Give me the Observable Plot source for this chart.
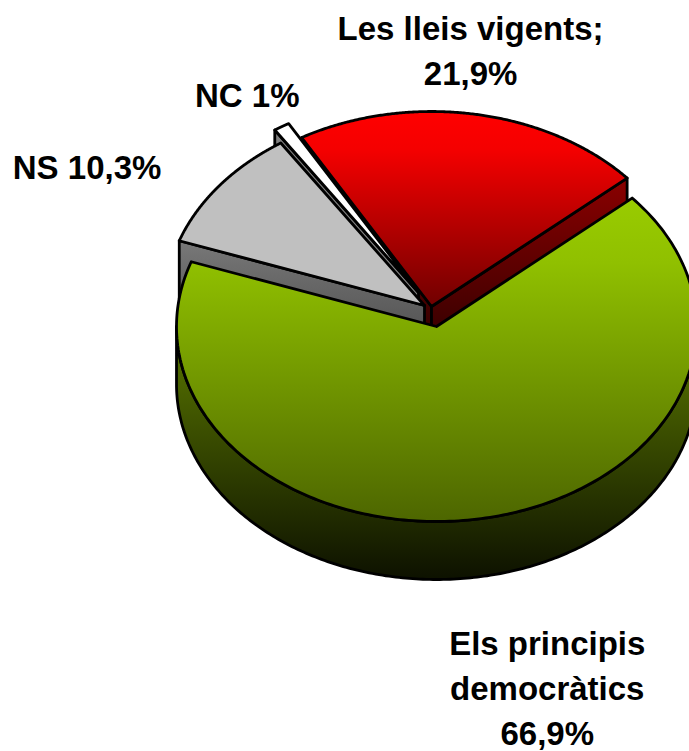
<!DOCTYPE html>
<html>
<head>
<meta charset="utf-8">
<style>html,body{margin:0;padding:0;background:#fff}svg{display:block}</style>
<script src="https://cdn.jsdelivr.net/npm/d3@7"></script>
<script src="https://cdn.jsdelivr.net/npm/@observablehq/plot@0.6"></script>
</head>
<body>
<div id="chart"></div>
<script>
const categories = ["Els principis democràtics", "NS", "NC", "Les lleis vigents"];
const shares = [66.9, 10.3, 1, 21.9];
const labels = ["Els principis\ndemocràtics\n66,9%", "NS 10,3%", "NC 1%", "Les lleis vigents;\n21,9%"];

// Layout, in units of the pie's radius
const W = 689, H = 751;
const cx = 436, cy = 326, rx = 260, ry = 195;
const depth = 58 / ry;
const startAngle = 48.8;
const explode = [[0, 0], [-12 / rx, 21 / ry], [-18 / rx, 34 / ry], [-5 / rx, 20 / ry]];
const labelAt = [[0.426, -1.843], [-1.344, 0.828], [-0.728, 1.198], [0.131, 1.426]];

const total = d3.sum(shares);
let running = startAngle;
const slices = categories.map((name, i) => {
  const a0 = running;
  const a1 = a0 + shares[i] / total * 360;
  running = a1;
  return {name, a0, a1, ox: explode[i][0], oy: explode[i][1]};
});
const pt = (s, a, dz = 0) => {
  const t = a * Math.PI / 180;
  return {x: s.ox + Math.sin(t), y: s.oy + Math.cos(t) - dz};
};
const hub = (s, dz = 0) => ({x: s.ox, y: s.oy - dz});
const arcPts = (s, a0, a1, dz = 0) => d3.range(0, 241).map(k => pt(s, a0 + (a1 - a0) * k / 240, dz));
const ring = p => [...p, p[0]];
const face = s => ring([hub(s), ...arcPts(s, s.a0, s.a1)]);
const rim = (s, a0, a1) => ring([...arcPts(s, a0, a1), ...arcPts(s, a0, a1, depth).reverse()]);
const wall = (s, a) => ring([hub(s), pt(s, a), pt(s, a, depth), hub(s, depth)]);

const [green, gray, white, red] = slices;
const poly = (data, fill) => Plot.line(data, {x: "x", y: "y", fill, stroke: "#000", strokeWidth: 2.8, strokeLinejoin: "round", curve: "linear"});

const svg = Plot.plot({
  width: W, height: H, margin: 0,
  style: {background: "#fff"},
  x: {domain: [-cx / rx, (W - cx) / rx], range: [0, W], axis: null},
  y: {domain: [cy / ry, (cy - H) / ry], range: [0, H], axis: null},
  marks: [
    poly(wall(red, red.a0), "url(#redWall)"),
    poly(wall(white, white.a0), "#808080"),
    poly(face(white), "#ffffff"),
    poly(wall(red, red.a1), "url(#redWall)"),
    poly(face(red), "url(#redTop)"),
    poly(wall(gray, gray.a0), "url(#grayWall)"),
    poly(face(gray), "#c0c0c0"),
    poly(rim(green, 90, 270), "url(#greenRim)"),
    poly(face(green), "url(#greenTop)"),
    Plot.text(labels, {
      x: (d, i) => labelAt[i][0], y: (d, i) => labelAt[i][1], text: d => d,
      fontFamily: "Liberation Sans, Arial, sans-serif", fontWeight: 700, fontSize: 33,
      lineHeight: 1.364, fill: "#000", textAnchor: "middle", lineAnchor: "middle"
    })
  ]
});

const gradients = {
  greenTop: [[0, "#99cc00"], [0.2, "#90c000"], [1, "#4d6600"]],
  greenRim: [[0, "#5c7a00"], [1, "#0d1100"]],
  redTop: [[0, "#ff0000"], [0.2, "#f40000"], [1, "#700000"]],
  redWall: [[0, "#8a0000"], [1, "#2a0000"]],
  grayWall: [[0, "#787878"], [1, "#484848"]]
};
const defs = d3.select(svg).insert("defs", ":first-child");
for (const [id, stops] of Object.entries(gradients)) {
  const g = defs.append("linearGradient").attr("id", id).attr("x1", 0).attr("y1", 0).attr("x2", 0).attr("y2", 1);
  for (const [offset, color] of stops) g.append("stop").attr("offset", offset).attr("stop-color", color);
}
document.getElementById("chart").appendChild(svg);
</script>
</body>
</html>
